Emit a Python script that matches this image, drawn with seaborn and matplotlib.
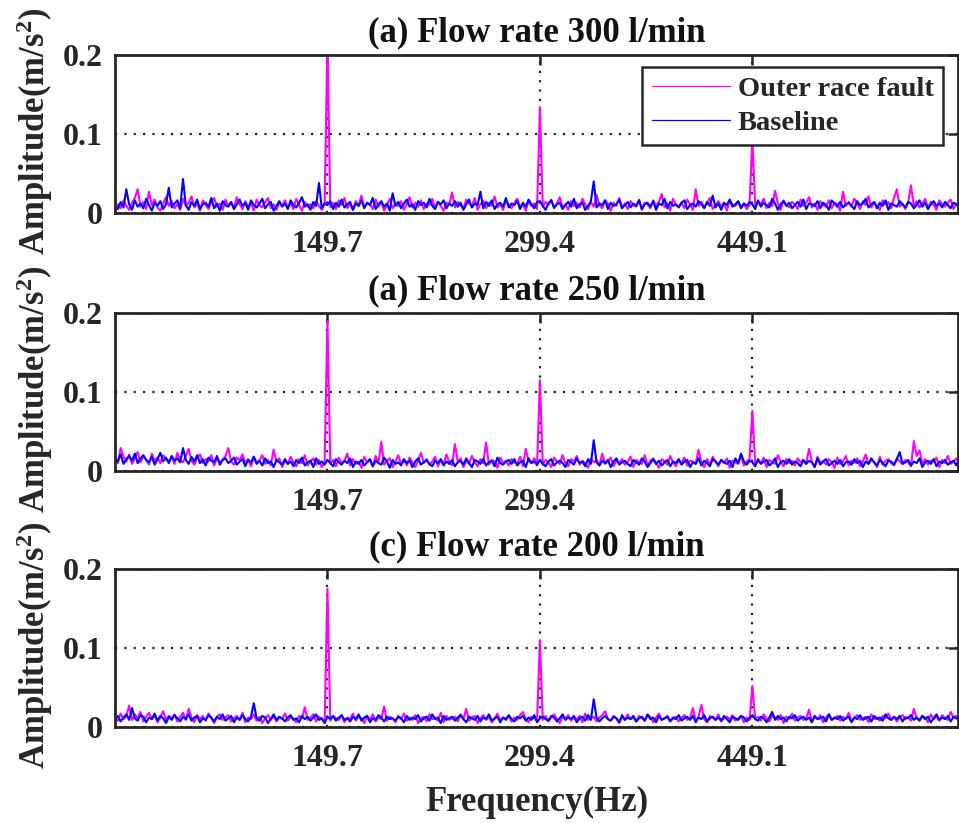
import numpy as np
import pandas as pd
import matplotlib
matplotlib.use("Agg")
import matplotlib.pyplot as plt
from matplotlib.lines import Line2D
import seaborn as sns

# Envelope spectrum amplitudes, unit 1e-3 m/s^2, one sample every 1.996 Hz
fault_300 = [3, 11, 6, 16, 9, 4, 13, 19, 30, 8, 14, 5, 27, 10, 17, 7, 3, 12, 20, 9,
             15, 6, 11, 4, 18, 9, 13, 21, 7, 12, 3, 16, 10, 5, 14, 19, 8, 12, 4, 17,
             9, 13, 6, 20, 11, 5, 15, 8, 12, 3, 17, 10, 7, 14, 19, 6, 11, 4, 13, 9,
             16, 7, 12, 5, 18, 10, 3, 14, 8, 11, 6, 15, 9, 4, 12, 215, 7, 13, 5, 16,
             10, 19, 6, 12, 4, 15, 9, 22, 7, 13, 11, 5, 17, 8, 14, 3, 10, 18, 6, 12,
             9, 15, 4, 11, 20, 7, 13, 8, 16, 5, 12, 10, 18, 6, 14, 9, 3, 13, 11, 26,
             7, 14, 10, 5, 17, 12, 8, 19, 4, 11, 15, 6, 13, 9, 21, 7, 12, 4, 16, 10,
             6, 13, 18, 8, 11, 3, 15, 9, 12, 5, 134, 8, 14, 10, 17, 6, 12, 20, 7, 11,
             4, 15, 9, 13, 7, 18, 11, 5, 14, 8, 23, 10, 6, 16, 12, 3, 13, 9, 19, 7,
             12, 5, 15, 10, 8, 17, 4, 13, 11, 6, 16, 9, 14, 24, 7, 12, 3, 18, 10, 8,
             13, 6, 17, 11, 4, 30, 9, 14, 7, 12, 19, 5, 10, 15, 8, 13, 3, 16, 11, 9,
             14, 7, 12, 5, 10, 95, 8, 15, 11, 18, 6, 13, 9, 28, 12, 4, 16, 10, 7, 14,
             11, 5, 17, 9, 13, 20, 7, 12, 4, 15, 10, 8, 16, 6, 13, 11, 3, 27, 9, 14,
             8, 18, 12, 5, 15, 10, 21, 7, 13, 9, 4, 16, 11, 14, 6, 19, 30, 8, 12, 5,
             13, 35, 9, 15, 7, 12, 18, 6, 14, 10, 4, 16, 11, 8, 13, 17, 5, 12, 9, 14, 10]
base_300 = [9, 5, 14, 7, 30, 11, 4, 16, 8, 12, 6, 18, 10, 3, 13, 9, 15, 5, 11, 32,
            7, 12, 16, 6, 43, 10, 4, 14, 9, 17, 5, 11, 13, 8, 19, 6, 12, 3, 15, 10,
            8, 14, 5, 11, 17, 9, 13, 4, 16, 10, 7, 12, 18, 6, 11, 14, 3, 9, 15, 8,
            12, 5, 16, 10, 7, 13, 20, 8, 11, 4, 14, 9, 38, 6, 12, 10, 15, 5, 13, 8,
            17, 7, 11, 14, 4, 12, 9, 16, 6, 13, 10, 19, 5, 11, 15, 8, 12, 3, 25, 9,
            14, 6, 12, 17, 8, 11, 4, 15, 10, 13, 7, 18, 9, 5, 14, 11, 16, 6, 12, 9,
            15, 8, 13, 4, 11, 17, 7, 12, 10, 27, 6, 14, 9, 16, 5, 11, 13, 8, 19, 7,
            12, 10, 15, 5, 13, 8, 17, 11, 6, 14, 15, 9, 4, 12, 16, 7, 11, 13, 5, 10,
            14, 8, 18, 6, 11, 13, 4, 9, 15, 40, 7, 12, 10, 16, 5, 13, 9, 11, 17, 6,
            10, 14, 7, 12, 9, 16, 5, 11, 13, 8, 15, 4, 12, 10, 18, 6, 14, 9, 11, 7,
            13, 16, 5, 10, 12, 8, 15, 11, 6, 14, 9, 22, 7, 12, 4, 13, 10, 17, 8, 11,
            15, 6, 12, 9, 14, 11, 5, 16, 8, 13, 10, 7, 18, 12, 4, 11, 15, 9, 13, 6,
            10, 14, 8, 17, 5, 12, 11, 9, 15, 6, 13, 10, 4, 16, 12, 8, 14, 7, 11, 13,
            9, 5, 15, 10, 12, 18, 7, 11, 14, 6, 13, 9, 16, 4, 12, 10, 8, 15, 11, 7,
            14, 12, 6, 10, 16, 8, 13, 5, 11, 15, 9, 12, 7, 14, 10, 6, 13, 11, 8, 12, 10]
fault_250 = [15, 10, 29, 18, 12, 21, 9, 16, 24, 11, 19, 14, 8, 22, 13, 17, 10, 20, 15, 12,
             18, 9, 23, 14, 11, 19, 28, 13, 8, 17, 21, 10, 15, 12, 20, 7, 16, 11, 14, 19,
             29, 12, 8, 17, 14, 21, 10, 15, 6, 18, 11, 13, 20, 9, 14, 7, 27, 12, 16, 5,
             13, 9, 18, 11, 6, 15, 10, 20, 7, 12, 16, 8, 14, 5, 11, 190, 9, 14, 6, 17,
             10, 13, 22, 7, 15, 9, 12, 4, 18, 11, 14, 6, 19, 10, 37, 8, 13, 16, 5, 12,
             20, 9, 14, 7, 17, 11, 5, 13, 23, 10, 15, 8, 12, 18, 6, 14, 9, 21, 11, 7,
             34, 12, 16, 5, 13, 9, 19, 11, 6, 15, 10, 36, 8, 14, 12, 4, 17, 10, 13, 7,
             15, 11, 9, 18, 6, 28, 13, 10, 16, 7, 115, 8, 14, 11, 5, 17, 12, 9, 20, 10,
             6, 15, 12, 19, 8, 13, 10, 4, 16, 11, 14, 7, 22, 9, 12, 17, 6, 13, 10, 15,
             8, 12, 18, 5, 14, 11, 9, 20, 7, 13, 16, 10, 4, 15, 12, 8, 19, 11, 6, 14,
             10, 17, 7, 13, 12, 9, 27, 11, 5, 15, 8, 18, 12, 6, 14, 10, 16, 4, 13, 11,
             9, 19, 7, 12, 15, 76, 8, 13, 10, 17, 5, 14, 11, 9, 20, 12, 6, 15, 10, 13,
             7, 16, 11, 14, 9, 28, 12, 5, 18, 10, 13, 8, 15, 11, 4, 17, 9, 12, 19, 7,
             13, 10, 16, 6, 12, 21, 9, 14, 11, 5, 18, 8, 13, 15, 10, 7, 16, 12, 9, 14,
             11, 6, 38, 19, 26, 10, 15, 8, 13, 12, 17, 5, 14, 10, 19, 9, 12, 16, 7, 13, 11]
base_250 = [17, 12, 21, 9, 15, 19, 13, 22, 10, 16, 20, 14, 11, 18, 8, 15, 23, 12, 17, 10,
            19, 13, 16, 11, 29, 14, 9, 18, 12, 20, 10, 15, 7, 17, 13, 11, 19, 8, 14, 16,
            10, 13, 17, 8, 12, 15, 6, 14, 11, 18, 9, 13, 7, 16, 10, 12, 5, 14, 11, 8,
            15, 9, 12, 6, 14, 10, 17, 7, 11, 13, 5, 16, 9, 12, 8, 14, 10, 6, 15, 11,
            8, 13, 10, 16, 5, 12, 9, 14, 7, 11, 15, 6, 13, 10, 8, 17, 12, 4, 14, 9,
            11, 7, 15, 10, 13, 5, 12, 16, 8, 11, 14, 9, 6, 13, 10, 15, 7, 12, 9, 14,
            6, 11, 13, 8, 16, 10, 5, 14, 12, 9, 15, 7, 11, 13, 6, 17, 10, 8, 12, 14,
            9, 15, 7, 11, 13, 5, 16, 10, 12, 8, 14, 9, 6, 12, 15, 7, 11, 13, 10, 5,
            14, 11, 8, 16, 10, 12, 6, 15, 9, 39, 11, 7, 13, 10, 14, 5, 12, 16, 8, 11,
            13, 9, 6, 14, 11, 8, 16, 12, 5, 10, 15, 9, 13, 7, 11, 14, 6, 12, 10, 15,
            8, 12, 14, 5, 11, 9, 16, 7, 13, 10, 6, 15, 12, 8, 14, 11, 9, 13, 5, 16,
            10, 22, 12, 8, 13, 11, 6, 15, 9, 12, 14, 7, 10, 16, 5, 11, 13, 9, 15, 8,
            12, 10, 6, 14, 9, 13, 11, 5, 16, 8, 12, 15, 7, 10, 13, 9, 14, 6, 11, 12,
            8, 15, 10, 13, 5, 12, 9, 16, 11, 7, 14, 10, 6, 13, 12, 8, 15, 24, 9, 11,
            14, 7, 12, 10, 16, 5, 11, 13, 9, 15, 6, 12, 10, 14, 8, 11, 13, 7, 15, 9, 12]
fault_200 = [12, 8, 17, 10, 14, 27, 9, 16, 11, 19, 7, 13, 18, 10, 15, 6, 12, 20, 9, 14,
             11, 16, 7, 13, 18, 9, 23, 12, 6, 15, 10, 14, 8, 17, 11, 5, 13, 16, 9, 12,
             15, 7, 11, 14, 9, 18, 6, 12, 10, 16, 8, 13, 5, 11, 15, 9, 14, 7, 12, 10,
             17, 8, 13, 10, 6, 14, 11, 25, 9, 12, 16, 7, 13, 10, 5, 175, 8, 14, 11, 9,
             15, 6, 12, 10, 17, 8, 13, 11, 5, 14, 9, 16, 7, 12, 10, 26, 8, 13, 11, 6,
             14, 10, 17, 8, 12, 9, 15, 5, 11, 13, 7, 16, 10, 12, 8, 18, 6, 14, 9, 11,
             13, 7, 16, 10, 23, 8, 12, 14, 5, 11, 15, 9, 13, 6, 10, 17, 8, 12, 11, 14,
             7, 12, 9, 15, 19, 10, 6, 13, 11, 8, 110, 9, 14, 7, 12, 16, 10, 5, 13, 11,
             15, 8, 12, 10, 14, 6, 17, 9, 11, 13, 7, 12, 15, 20, 10, 8, 14, 11, 5, 13,
             9, 16, 10, 12, 7, 14, 11, 8, 15, 13, 6, 12, 17, 9, 11, 14, 8, 10, 13, 7,
             12, 15, 9, 11, 24, 8, 13, 28, 10, 6, 14, 12, 9, 16, 7, 11, 13, 10, 15, 8,
             11, 14, 6, 12, 9, 52, 10, 13, 8, 16, 11, 7, 14, 12, 9, 15, 5, 13, 10, 17,
             8, 12, 14, 9, 11, 22, 7, 13, 10, 15, 6, 12, 16, 9, 11, 14, 8, 13, 10, 18,
             7, 12, 15, 9, 11, 13, 6, 16, 10, 12, 8, 14, 11, 17, 9, 13, 7, 12, 15, 10,
             13, 8, 23, 11, 9, 14, 12, 6, 16, 10, 13, 8, 15, 11, 9, 19, 12, 14, 7, 11, 10]
base_200 = [10, 14, 7, 12, 16, 9, 24, 11, 8, 15, 13, 6, 12, 10, 17, 8, 14, 11, 5, 13,
            9, 15, 11, 7, 13, 10, 16, 8, 12, 14, 6, 11, 9, 15, 12, 7, 13, 10, 16, 8,
            11, 14, 6, 12, 9, 15, 10, 7, 13, 30, 11, 8, 14, 12, 5, 10, 16, 9, 13, 11,
            7, 12, 15, 9, 11, 6, 14, 10, 13, 8, 12, 16, 9, 11, 5, 13, 10, 14, 8, 12,
            15, 9, 11, 7, 13, 10, 16, 8, 12, 14, 6, 11, 9, 15, 12, 7, 13, 10, 11, 8,
            13, 11, 6, 14, 9, 12, 10, 15, 7, 11, 13, 8, 16, 10, 12, 5, 14, 9, 11, 13,
            8, 12, 15, 10, 6, 13, 11, 9, 14, 7, 12, 10, 16, 8, 11, 13, 6, 12, 9, 15,
            10, 7, 13, 11, 14, 8, 12, 9, 15, 6, 11, 13, 10, 8, 14, 12, 7, 11, 16, 9,
            12, 10, 14, 6, 11, 13, 8, 15, 9, 35, 12, 7, 11, 14, 10, 8, 13, 11, 6, 15,
            9, 12, 10, 14, 7, 11, 13, 8, 16, 10, 12, 6, 14, 9, 11, 13, 7, 12, 10, 15,
            8, 11, 13, 9, 14, 6, 12, 10, 15, 7, 11, 13, 9, 12, 8, 14, 10, 6, 13, 11,
            9, 14, 12, 7, 11, 15, 10, 8, 13, 11, 6, 12, 19, 9, 14, 10, 12, 7, 13, 11,
            15, 8, 11, 13, 9, 12, 6, 14, 10, 11, 13, 7, 16, 9, 12, 10, 14, 8, 11, 13,
            6, 12, 10, 15, 9, 11, 13, 7, 14, 10, 12, 8, 16, 11, 9, 13, 10, 14, 7, 12,
            11, 15, 9, 12, 8, 14, 10, 13, 6, 11, 16, 9, 12, 10, 14, 7, 13, 11, 9, 15, 12]

titles = ["(a) Flow rate 300 l/min", "(a) Flow rate 250 l/min", "(c) Flow rate 200 l/min"]
panels = [(fault_300, base_300), (fault_250, base_250), (fault_200, base_200)]
series_names = ["Outer race fault", "Baseline"]
tick_freqs = [149.7, 299.4, 449.1]
tick_labels = ["149.7", "299.4", "449.1"]
df_step = 1.996  # Hz per sample

sns.set_style("white")
plt.rcParams['font.family'] = ['Liberation Serif', 'DejaVu Serif']
plt.rcParams['font.weight'] = 'bold'
plt.rcParams['axes.labelweight'] = 'bold'
plt.rcParams['axes.titleweight'] = 'bold'
plt.rcParams['mathtext.default'] = 'regular'

colors = {"Outer race fault": "#FF00FF", "Baseline": "#0000FF"}
dark = "#262626"

fig = plt.figure(figsize=(9.59, 8.23), dpi=100)
bottoms = [1 - 213 / 823, 1 - 471 / 823, 1 - 727 / 823]
left, width, height = 115 / 959, 843 / 959, 158 / 823

for k, ((fault, base), title) in enumerate(zip(panels, titles)):
    ax = fig.add_axes([left, bottoms[k], width, height])
    rows = []
    for name, vals in zip(series_names, (fault, base)):
        for i, v in enumerate(vals):
            rows.append((i * df_step, v / 1000.0, name))
    df = pd.DataFrame(rows, columns=["freq", "amp", "series"])
    sns.lineplot(data=df, x="freq", y="amp", hue="series", hue_order=series_names,
                 palette=colors, estimator=None, linewidth=1.5, legend=False, ax=ax)

    ax.set_xlim(0, 594)
    ax.set_ylim(0, 0.2)
    ax.set_xticks(tick_freqs)
    ax.set_xticklabels(tick_labels)
    ax.set_yticks([0, 0.1, 0.2])
    ax.set_yticklabels(["0", "0.1", "0.2"])
    ax.grid(True, color=dark, linestyle=(0, (1, 3.2)), linewidth=1.6)
    ax.set_axisbelow(True)
    for sp in ax.spines.values():
        sp.set_visible(True)
        sp.set_color(dark)
        sp.set_linewidth(2.0)
    ax.tick_params(direction='in', length=7, width=1.8, color=dark, top=True, right=True,
                   labelsize=23, labelcolor=dark)
    ax.tick_params(axis='x', pad=12)
    ax.tick_params(axis='y', pad=9)
    ax.set_title(title, fontsize=25, fontweight='bold', color='#111111', pad=10)
    ax.set_ylabel("Amplitude(m/s$^2$)", fontsize=25, color=dark)
    ax.yaxis.set_label_coords(-0.071, 0.52)
    if k == 2:
        ax.set_xlabel("Frequency(Hz)", fontsize=25, color=dark)
        ax.xaxis.set_label_coords(0.5, -0.37)
    else:
        ax.set_xlabel("")
    if k == 0:
        handles = [Line2D([], [], color=colors[n], linewidth=0.9) for n in series_names]
        leg = ax.legend(handles, series_names, loc='upper right', bbox_to_anchor=(0.982, 0.925),
                        fontsize=20.5, frameon=True, fancybox=False, framealpha=1,
                        edgecolor=dark, handlelength=2.75, borderpad=0.32, labelspacing=0.28,
                        handletextpad=0.28, borderaxespad=0)
        leg.get_frame().set_linewidth(1.8)

fig.savefig("out.png", dpi=100)
